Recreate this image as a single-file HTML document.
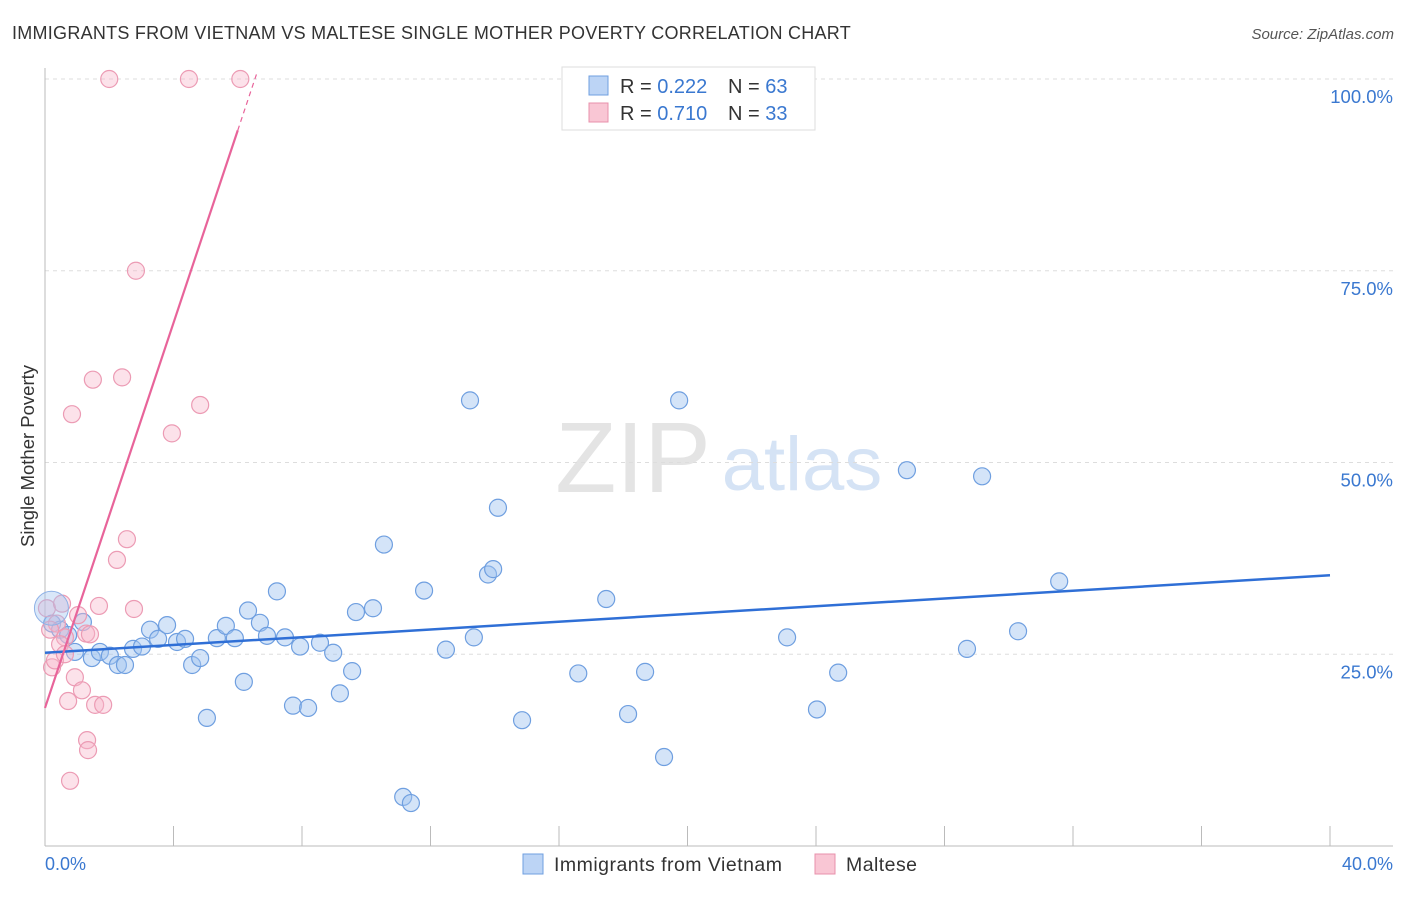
<!DOCTYPE html>
<html><head><meta charset="utf-8"><style>
body{margin:0;background:#fff;font-family:"Liberation Sans",sans-serif;}
svg text{font-family:"Liberation Sans",sans-serif;}
</style></head><body>
<svg id="chart" width="1406" height="892">
<text x="12" y="39" font-size="18" fill="#333" letter-spacing="0.25" textLength="839">IMMIGRANTS FROM VIETNAM VS MALTESE SINGLE MOTHER POVERTY CORRELATION CHART</text>
<text x="1394" y="39" font-size="15" fill="#555" font-style="italic" text-anchor="end">Source: ZipAtlas.com</text>
<g><text x="633" y="492" font-size="100" fill="#e4e4e4" text-anchor="middle" font-family="Liberation Serif">ZIP</text><text x="802" y="490" font-size="76" fill="#d5e3f5" text-anchor="middle">atlas</text></g>
<g id="grid"></g><g id="axes"></g><g id="pts"></g><g id="trend"></g>
<text transform="translate(34,456) rotate(-90)" font-size="18.5" fill="#333" text-anchor="middle">Single Mother Poverty</text>
<text x="45" y="870" font-size="18" fill="#3a78d0">0.0%</text>
<text x="1393" y="870" font-size="18" fill="#3a78d0" text-anchor="end">40.0%</text>
<g>
<rect x="562" y="67" width="253" height="63" fill="#fff" stroke="#ddd"/>
<rect x="589" y="76" width="19" height="19" fill="#bcd4f5" stroke="#6f9fe0"/>
<rect x="589" y="103" width="19" height="19" fill="#f9c6d4" stroke="#e890ab"/>
<text x="620" y="93" font-size="20" fill="#333">R = <tspan fill="#3a78d0">0.222</tspan><tspan x="728">N = </tspan><tspan fill="#3a78d0">63</tspan></text>
<text x="620" y="120" font-size="20" fill="#333">R = <tspan fill="#3a78d0">0.710</tspan><tspan x="728">N = </tspan><tspan fill="#3a78d0">33</tspan></text>
</g>
<g>
<rect x="523" y="854" width="20" height="20" fill="#bcd4f5" stroke="#6f9fe0"/>
<text x="554" y="871" font-size="19.5" fill="#333" textLength="228">Immigrants from Vietnam</text>
<rect x="815" y="854" width="20" height="20" fill="#f9c6d4" stroke="#e890ab"/>
<text x="846" y="871" font-size="19.5" fill="#333" textLength="71">Maltese</text>
</g>
</svg>
<script>
const yTicks=[25,50,75,100];
const xTicks=[0,4,8,12,16,20,24,28,32,36,40];
const blueX=[0.22,0.47,0.72,0.93,1.18,1.46,1.71,2.02,2.27,2.49,2.74,3.02,3.27,3.52,3.80,4.11,4.36,4.58,4.83,5.04,5.35,5.63,5.91,6.19,6.32,6.69,6.91,7.22,7.47,7.72,7.94,8.19,8.56,8.97,9.18,9.56,9.68,10.21,10.55,11.15,11.39,11.80,12.48,13.23,13.35,13.79,13.95,14.10,14.85,16.60,17.47,18.15,18.68,19.27,19.74,23.10,24.03,24.69,26.83,28.70,29.17,30.29,31.57];
const blueY=[29.0,28.2,27.5,25.3,29.2,24.5,25.3,24.8,23.6,23.6,25.7,26.0,28.2,27.0,28.8,26.6,27.0,23.6,24.5,16.7,27.1,28.7,27.1,21.4,30.7,29.1,27.4,33.2,27.2,18.3,26.0,18.0,26.5,25.2,19.9,22.8,30.5,31.0,39.3,6.4,5.6,33.3,25.6,58.1,27.2,35.4,36.1,44.1,16.4,22.5,32.2,17.2,22.7,11.6,58.1,27.2,17.8,22.6,49.0,25.7,48.2,28.0,34.5];
const pinkX=[0.06,0.22,0.31,0.37,0.53,0.62,0.72,0.84,0.93,1.03,1.15,1.28,1.31,1.34,1.40,1.49,1.56,1.68,1.81,2.00,2.24,2.40,2.55,2.77,2.83,3.95,4.48,4.83,6.08,0.78,0.16,0.47,0.62];
const pinkY=[31.0,23.3,24.2,29.0,31.6,27.2,18.9,56.3,22.0,30.1,20.3,27.7,13.8,12.5,27.6,60.8,18.4,31.3,18.4,100,37.3,61.1,40.0,30.9,75.0,53.8,100,57.5,100,8.5,28.2,26.3,25.0];
const blueFit=[25.2,35.3];
const pinkFit=[18.0,93.3];
const X=v=>45+v*(1285/40), Y=v=>846-v*(767/100);
const ns="http://www.w3.org/2000/svg";
function mk(t,a,p){const e=document.createElementNS(ns,t);for(const k in a)e.setAttribute(k,a[k]);document.getElementById(p).appendChild(e);return e;}
yTicks.forEach(t=>{
 const l=mk('line',{x1:45,x2:1393,y1:Y(t),y2:Y(t),stroke:'#ddd','stroke-dasharray':'4,4'},'grid');
 
 
 const tx=mk('text',{x:1393,y:Y(t)+24,'font-size':18.5,fill:'#3a78d0','text-anchor':'end'},'grid');
 tx.textContent=t.toFixed(1)+'%';
 
 
});
const ax=mk('line',{x1:45,x2:45,y1:68,y2:846,stroke:'#bbb'},'axes');


const bx=mk('line',{x1:45,x2:1393,y1:846,y2:846,stroke:'#bbb'},'axes');


xTicks.forEach(t=>{const l=mk('line',{x1:X(t),x2:X(t),y1:826,y2:846,stroke:'#bbb'},'axes');
 
 });
blueX.forEach((v,i)=>{const c=mk('circle',{cx:X(v),cy:Y(blueY[i]),r:8.5,fill:'rgba(160,196,240,0.45)',stroke:'#6f9fe0','stroke-width':1.2},'pts');
 
 });
pinkX.forEach((v,i)=>{const c=mk('circle',{cx:X(v),cy:Y(pinkY[i]),r:8.5,fill:'rgba(248,182,202,0.4)',stroke:'#ec9bb4','stroke-width':1.2},'pts');
 
 });
const big=mk('circle',{cx:X(0.2),cy:Y(31),r:17,fill:'rgba(160,196,240,0.4)',stroke:'#8fb2e6'},'pts');


const bl=mk('line',{x1:X(0),y1:Y(blueFit[0]),x2:X(40),y2:Y(blueFit[1]),stroke:'#2f6fd6','stroke-width':2.5},'trend');


const slope=(pinkFit[1]-pinkFit[0])/6;
const pl=mk('line',{x1:X(0),y1:Y(pinkFit[0]),x2:X(6),y2:Y(pinkFit[1]),stroke:'#e8649a','stroke-width':2.2},'trend');


const pd=mk('line',{x1:X(6),y1:Y(pinkFit[1]),x2:X(6.6),y2:Y(pinkFit[1]+slope*0.6),stroke:'#e8649a','stroke-width':1.2,'stroke-dasharray':'5,4'},'trend');


</script>
</body></html>
